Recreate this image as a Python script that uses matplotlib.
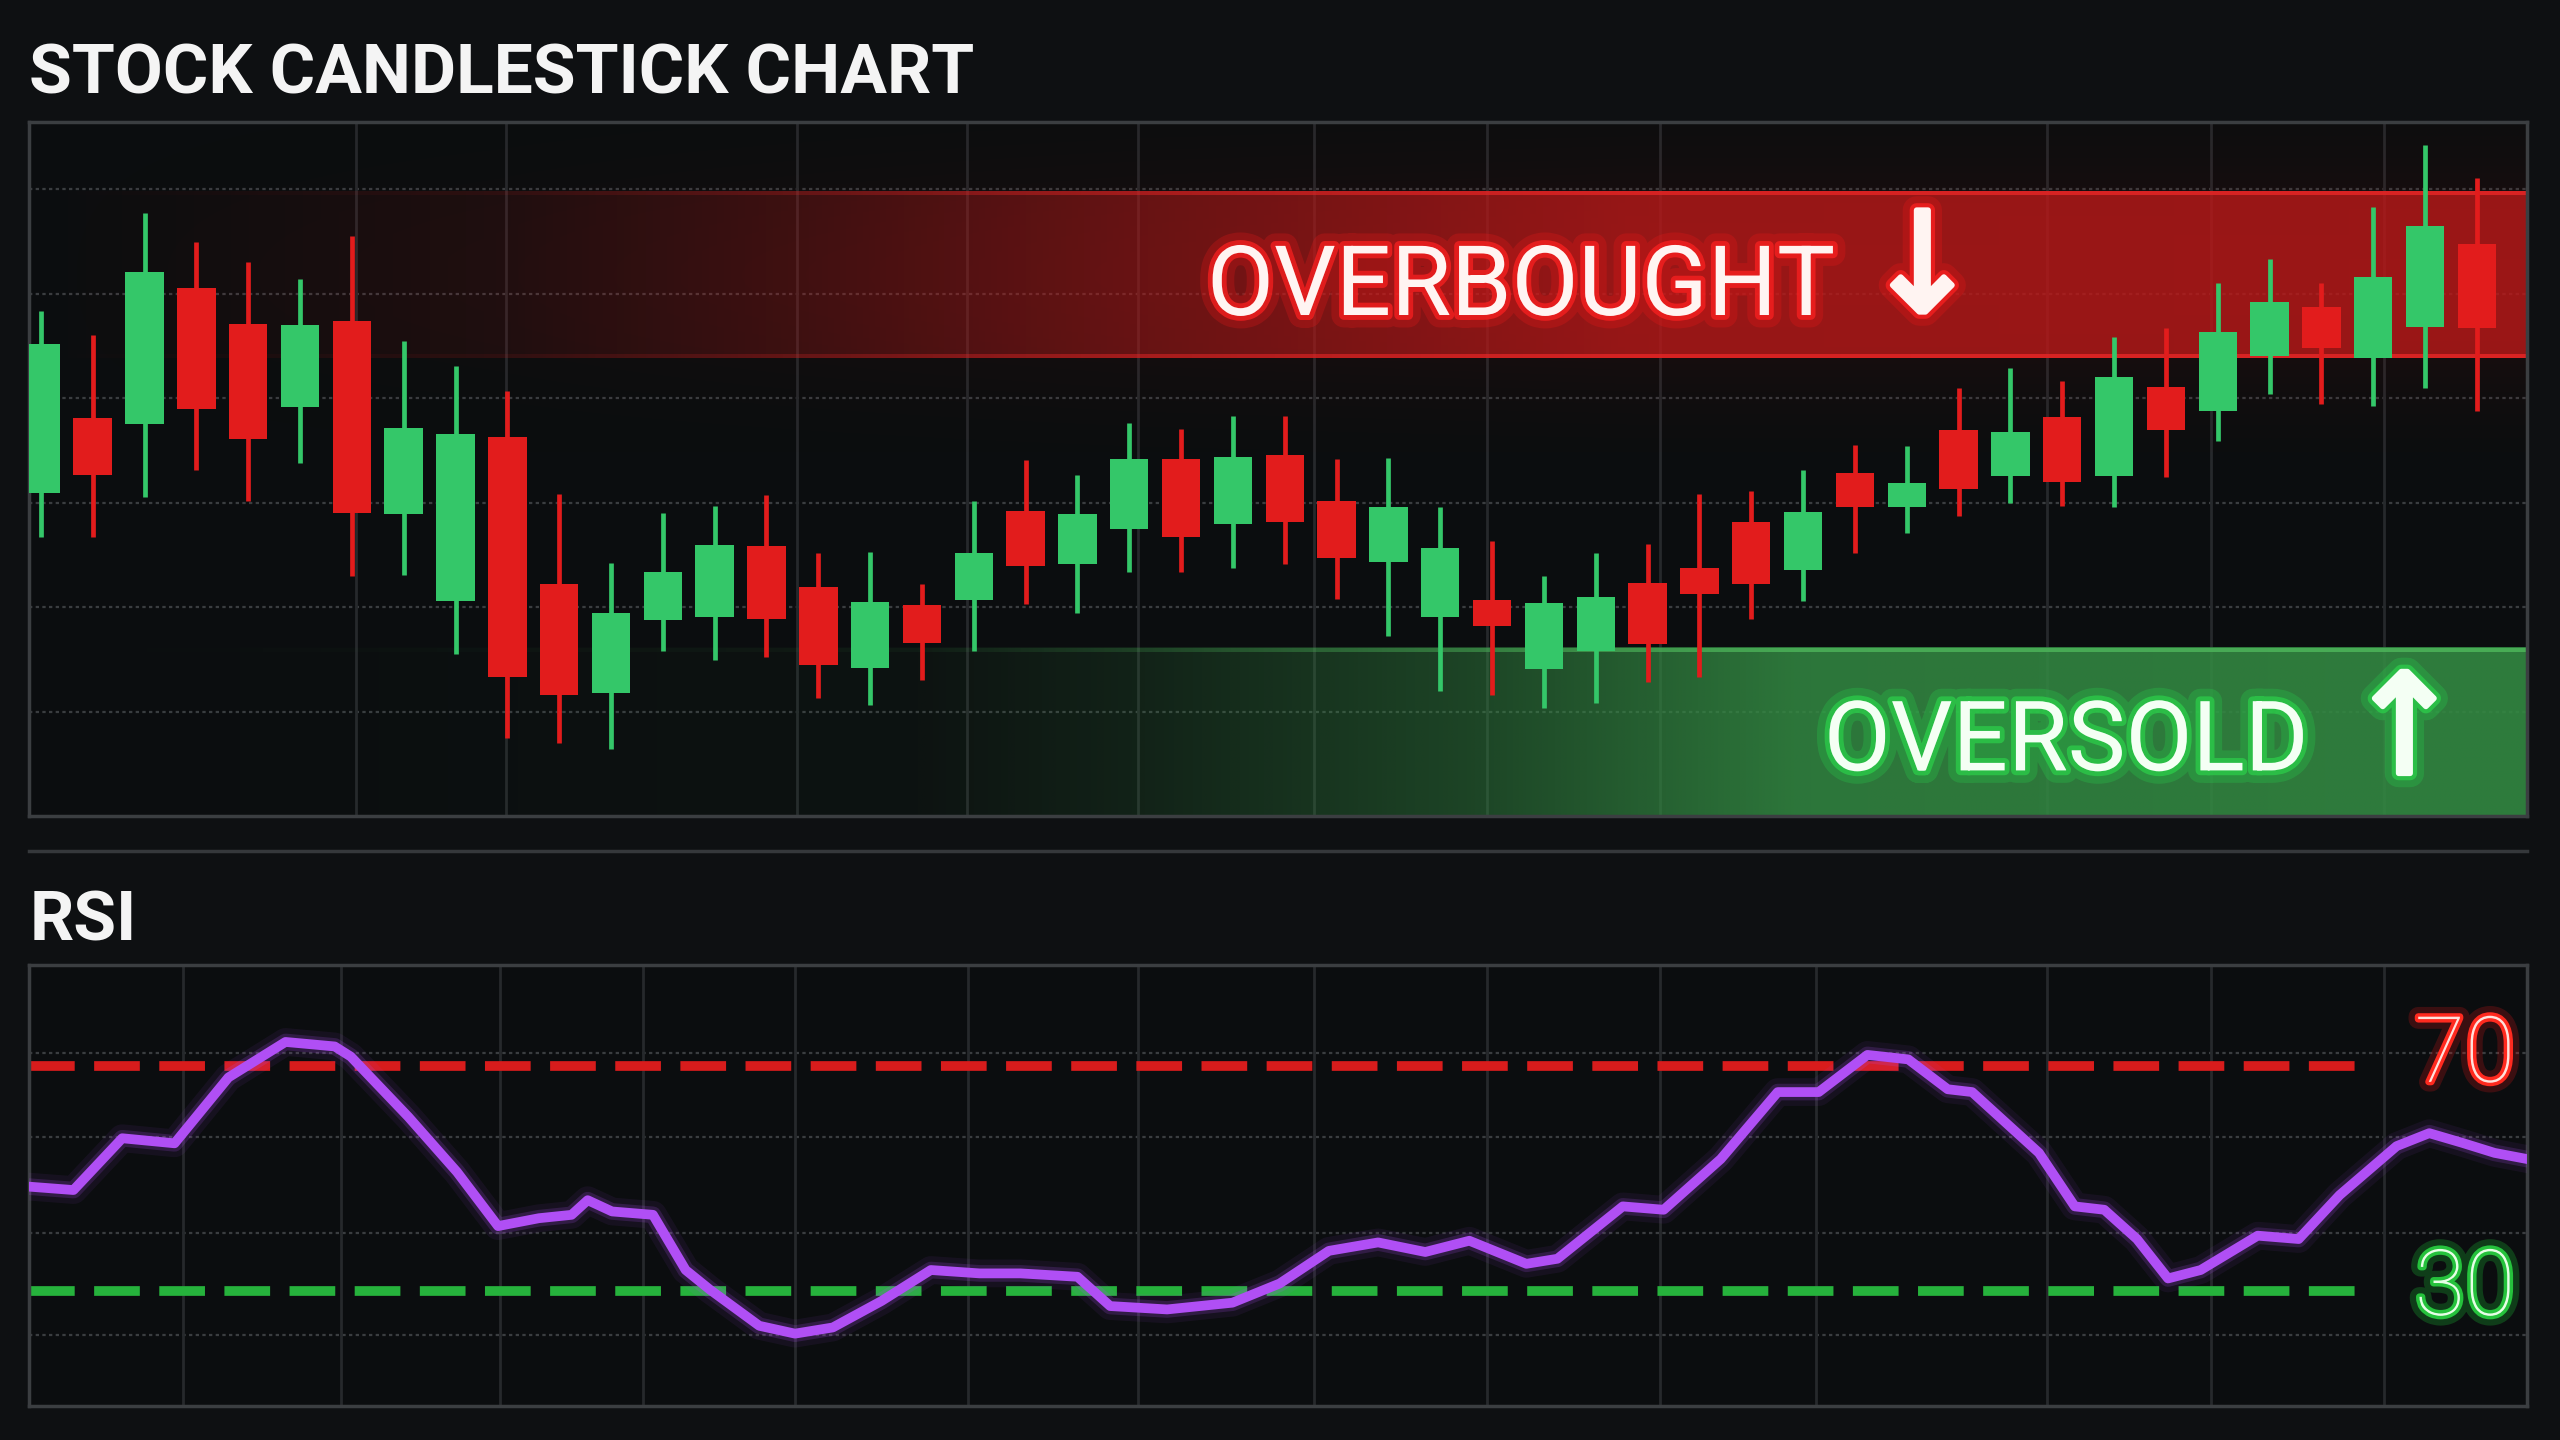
import numpy as np
import matplotlib.pyplot as plt
import matplotlib.patheffects as pe
from matplotlib.lines import Line2D

plt.rcParams['font.family'] = ['Roboto', 'DejaVu Sans']

# candles, one per session (index 0..47)
opens = [120.9, 128.1, 127.5, 140.6, 137.1, 129.2, 137.4, 118.9, 110.6, 126.3, 112.2, 101.8,
         108.8, 109.1, 115.9, 111.9, 104.2, 110.2, 110.7, 119.2, 114.1, 117.5, 124.2, 118.0,
         124.6, 120.2, 114.3, 109.1, 110.7, 104.1, 105.8, 112.3, 113.8, 118.2, 113.6, 122.9,
         119.6, 127.0, 122.6, 128.2, 122.6, 131.1, 128.8, 134.0, 138.7, 133.9, 136.8, 144.8]
highs = [138.4, 136.1, 147.7, 145.0, 143.0, 141.4, 145.5, 135.5, 133.1, 130.7, 120.8, 114.2,
         119.0, 119.7, 120.7, 115.2, 115.3, 112.2, 120.2, 124.1, 122.7, 127.6, 127.1, 128.3,
         128.3, 124.2, 124.3, 119.6, 116.3, 113.0, 115.2, 116.1, 120.8, 121.1, 123.1, 125.5,
         125.4, 131.0, 132.9, 131.7, 135.9, 136.7, 141.0, 143.3, 141.0, 148.3, 154.2, 151.1]
lows = [116.7, 116.7, 120.6, 123.1, 120.2, 123.8, 113.0, 113.1, 105.5, 97.5, 97.0, 96.4,
        105.8, 105.0, 105.2, 101.3, 100.7, 103.0, 105.8, 110.3, 109.5, 113.4, 113.4, 113.8,
        114.1, 110.8, 107.3, 102.0, 101.6, 100.4, 100.8, 102.9, 103.3, 108.9, 110.6, 115.2,
        117.1, 118.7, 120.0, 119.7, 119.6, 122.5, 125.9, 130.4, 129.5, 129.3, 131.0, 128.8]
closes = [135.2, 122.7, 142.1, 129.0, 126.1, 137.0, 119.0, 127.2, 126.6, 103.3, 101.6, 109.5,
          113.4, 116.0, 108.9, 104.5, 110.5, 106.6, 115.2, 114.0, 118.9, 124.2, 116.7, 124.4,
          118.2, 114.7, 119.6, 115.7, 108.2, 110.4, 111.0, 106.5, 111.3, 112.2, 119.1, 119.6,
          121.9, 121.3, 126.8, 122.0, 132.0, 127.0, 136.3, 139.2, 134.8, 141.6, 146.5, 136.7]

# RSI curve (x in session units)
rsi_x = [-0.22, 0.63, 1.57, 2.58, 3.62, 4.72, 5.67, 5.98, 7.09, 8.03, 8.82, 9.61, 10.24, 10.55,
         11.02, 11.81, 12.44, 12.91, 13.86, 14.55, 15.28, 16.22, 17.17, 18.11, 18.9, 20.0,
         20.63, 21.73, 22.99, 23.9, 24.85, 25.8, 26.71, 27.56, 28.66, 29.26, 30.52, 31.31,
         32.41, 33.51, 34.3, 35.24, 36.03, 36.79, 37.26, 38.55, 39.24, 39.81, 40.44, 41.04,
         41.67, 42.77, 43.56, 44.35, 45.45, 46.08, 46.71, 47.34, 47.97]
rsi_y = [48.6, 48.0, 57.2, 56.3, 68.0, 74.3, 73.5, 71.7, 61.0, 51.2, 41.6, 43.0, 43.6, 46.2,
         44.2, 43.6, 33.8, 30.3, 23.9, 22.5, 23.6, 28.3, 33.8, 33.2, 33.2, 32.6,
         27.4, 26.8, 28.0, 31.4, 37.2, 38.7, 37.0, 39.0, 34.9, 35.8, 45.1, 44.5,
         53.5, 65.4, 65.4, 72.0, 71.2, 65.9, 65.4, 54.6, 45.1, 44.5, 39.3, 32.3,
         33.8, 39.9, 39.3, 47.1, 55.8, 58.1, 56.4, 54.6, 53.5]

price_grid = [100, 110, 120, 130, 140, 150]
price_vgrid = [6.08, 8.98, 14.58, 17.86, 21.17, 24.57, 27.91, 31.24, 38.71, 41.86, 45.2]
rsi_vgrid = [2.74, 5.80, 8.85, 11.62, 14.55, 17.89, 21.17, 24.57, 27.91, 31.24, 34.24,
             38.71, 41.86, 45.2]
rsi_hgrid = [22.2, 40.4, 57.5, 72.3]
overbought_band = (133.9, 149.8)
oversold_band = (90.0, 106.1)
rsi_levels = [70, 30]
rsi_level_colors = ['#d81c1c', '#26b23c']

XLIM = (-0.22, 47.97)
PLIM = (90.0, 156.4)
RLIM = (9.7, 88.0)

BG = '#0e1012'
AXBG = '#0b0d0f'
FRAME = '#3b3e41'
GREEN = '#34c769'
RED = '#e21c1c'

fig = plt.figure(figsize=(25.6, 14.4), dpi=100, facecolor=BG)
ax = fig.add_axes([0.0115, 0.4331, 0.9757, 0.4819])
ax2 = fig.add_axes([0.0115, 0.0238, 0.9757, 0.3062])

for a in (ax, ax2):
    a.set_facecolor(AXBG)
    a.set_xticks([])
    a.set_yticks([])
    for s in a.spines.values():
        s.set_color(FRAME)
        s.set_linewidth(2.5)


def shade(a, y0, y1, rgb, ramp_x, ramp_a, vprof=None, z=1):
    xx = np.linspace(XLIM[0], XLIM[1], 500)
    alpha_x = np.interp(xx, ramp_x, ramp_a)
    ny = 120
    if vprof is None:
        alpha_y = np.ones(ny)
    else:
        alpha_y = vprof(np.linspace(0, 1, ny))
    img = np.zeros((ny, len(xx), 4))
    img[..., :3] = rgb
    img[..., 3] = np.clip(alpha_y[:, None] * alpha_x[None, :], 0, 1)
    a.imshow(img, extent=(XLIM[0], XLIM[1], y0, y1), origin='lower', aspect='auto',
             interpolation='bilinear', zorder=z)


# grid
ax.hlines(price_grid, XLIM[0], XLIM[1], colors='#3a3d40', lw=1.6, linestyles=(0, (1.5, 1.5)), zorder=0.5)
ax.vlines(price_vgrid, PLIM[0], PLIM[1], colors='#26292c', lw=2.0, zorder=0.5)

# overbought band: soft glow, body, edges
ob0, ob1 = overbought_band
ramp_rx = [XLIM[0], 8.7, 15.0, 21.3, 30.7, XLIM[1]]
shade(ax, ob0 - 9, ob1 + 7, (0.5, 0.07, 0.05), ramp_rx, [0.0, 0.04, 0.08, 0.12, 0.16, 0.16],
      vprof=lambda t: np.exp(-((t - 0.53) / 0.34) ** 2), z=0.8)
shade(ax, ob0, ob1, (0.74, 0.1, 0.1), ramp_rx, [0.0, 0.1, 0.28, 0.5, 0.78, 0.8], z=1)
shade(ax, ob1 - 0.35, ob1, (0.9, 0.15, 0.15), ramp_rx, [0.0, 0.08, 0.25, 0.5, 0.8, 0.85], z=1.1)
shade(ax, ob0, ob0 + 0.35, (0.9, 0.15, 0.15), ramp_rx, [0.0, 0.08, 0.25, 0.5, 0.8, 0.85], z=1.1)

# oversold band
os0, os1 = oversold_band
ramp_gx = [XLIM[0], 16.9, 21.3, 27.6, 33.9, XLIM[1]]
shade(ax, os0, os1, (0.20, 0.54, 0.26), ramp_gx, [0.0, 0.05, 0.18, 0.45, 0.85, 0.9], z=1)
shade(ax, os1 - 0.35, os1, (0.3, 0.7, 0.35), ramp_gx, [0.0, 0.06, 0.22, 0.5, 0.85, 0.9], z=1.1)

# candles
xs = np.arange(len(opens))
o = np.array(opens)
c = np.array(closes)
cols = [GREEN if cc >= oo else RED for oo, cc in zip(o, c)]
ax.vlines(xs, lows, highs, colors=cols, lw=3.4, zorder=3)
ax.bar(xs, np.abs(c - o), bottom=np.minimum(o, c), width=0.74, color=cols, zorder=4)

ax.set_xlim(*XLIM)
ax.set_ylim(*PLIM)

red_glow = [pe.Stroke(linewidth=18, foreground='#ff1a1a', alpha=0.22),
            pe.Stroke(linewidth=7, foreground='#ff2020', alpha=0.7), pe.Normal()]
green_glow = [pe.Stroke(linewidth=18, foreground='#22ff55', alpha=0.18),
              pe.Stroke(linewidth=7, foreground='#2bd14a', alpha=0.7), pe.Normal()]
# thin arrow glyphs get a white stroke on top of the glow to thicken them
red_arrow = [pe.Stroke(linewidth=20, foreground='#ff1a1a', alpha=0.22),
             pe.Stroke(linewidth=10, foreground='#ff2020', alpha=0.7),
             pe.Stroke(linewidth=4, foreground='#fff4f2'), pe.Normal()]
green_arrow = [pe.Stroke(linewidth=20, foreground='#22ff55', alpha=0.18),
               pe.Stroke(linewidth=10, foreground='#2bd14a', alpha=0.7),
               pe.Stroke(linewidth=4, foreground='#f4fff4'), pe.Normal()]

ax.text(22.5, 137.97, 'OVERBOUGHT', color='#fff4f2', fontsize=70, ha='left', va='baseline',
        path_effects=red_glow, zorder=6)
ax.text(36.3, 142.0, '↓', color='#fff4f2', fontsize=100, ha='center',
        va='center', family=['DejaVu Sans'], path_effects=red_arrow, zorder=6)
ax.text(34.4, 94.4, 'OVERSOLD', color='#f4fff4', fontsize=70, ha='left', va='baseline',
        path_effects=green_glow, zorder=6)
ax.text(45.6, 97.8, '↑', color='#f4fff4', fontsize=100, ha='center',
        va='center', family=['DejaVu Sans'], path_effects=green_arrow, zorder=6)

# RSI panel
ax2.hlines(rsi_hgrid, XLIM[0], XLIM[1], colors='#3a3d40', lw=1.6, linestyles=(0, (1.5, 1.5)), zorder=0.5)
ax2.vlines(rsi_vgrid, RLIM[0], RLIM[1], colors='#26292c', lw=2.0, zorder=0.5)
for lvl, col in zip(rsi_levels, rsi_level_colors):
    ax2.hlines(lvl, XLIM[0], 45.0, colors=col, lw=7, linestyles=(0, (4.7, 2.0)), zorder=2)

purple = '#b04ff5'
ax2.plot(rsi_x, rsi_y, color=purple, lw=20, alpha=0.07, zorder=3)
ax2.plot(rsi_x, rsi_y, color=purple, lw=12, alpha=0.18, zorder=3)
ax2.plot(rsi_x, rsi_y, color=purple, lw=7, zorder=4)

ax2.text(46.77, 71.7, '70', color='#ffe2dc', fontsize=66, fontweight='light', ha='center',
         va='center', path_effects=[pe.Stroke(linewidth=14, foreground='#ff1a1a', alpha=0.2),
                                    pe.Stroke(linewidth=5, foreground='#ff2a1f'), pe.Normal()], zorder=6)
ax2.text(46.77, 30.3, '30', color='#e6ffe6', fontsize=66, fontweight='light', ha='center',
         va='center', path_effects=[pe.Stroke(linewidth=14, foreground='#22ff44', alpha=0.2),
                                    pe.Stroke(linewidth=5, foreground='#25c23c'), pe.Normal()], zorder=6)

ax2.set_xlim(*XLIM)
ax2.set_ylim(*RLIM)

# titles and divider
fig.text(0.0115, 0.935, 'STOCK CANDLESTICK CHART', color='#f4f4f4', fontsize=50,
         fontweight='bold', ha='left', va='baseline')
fig.text(0.0115, 0.347, 'RSI', color='#f4f4f4', fontsize=50, fontweight='bold',
         ha='left', va='baseline')
fig.add_artist(Line2D([0.0115, 0.9872], [0.4093, 0.4093], transform=fig.transFigure,
                      color='#35383b', lw=2.5))

fig.savefig('out.png', dpi=100, facecolor=BG)
